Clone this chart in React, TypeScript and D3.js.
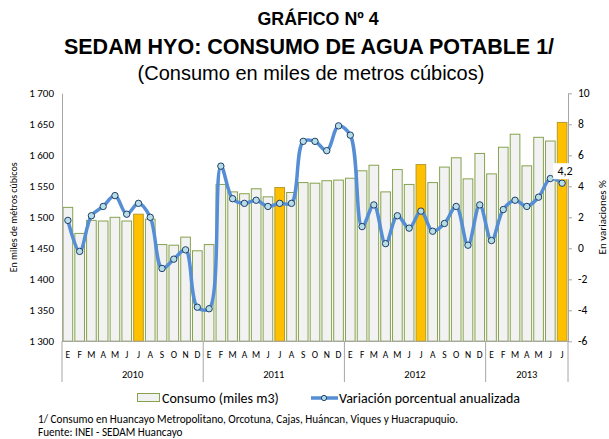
import React, { useEffect, useRef } from 'react';
import * as d3 from 'd3';

// meses (E..D) y años del eje
const months = ['E', 'F', 'M', 'A', 'M', 'J', 'J', 'A', 'S', 'O', 'N', 'D'];
const years = ['2010', '2011', '2012', '2013'];
const monthsPerYear = [12, 12, 12, 7];

// consumo en miles de m3
const consumo = [
  1516, 1474, 1495, 1494, 1500, 1494, 1505, 1497, 1456, 1455, 1468, 1446,
  1456, 1553, 1541, 1538, 1546, 1533, 1548, 1540, 1556, 1555, 1559, 1560,
  1563, 1575, 1584, 1541, 1577, 1553, 1585, 1556, 1581, 1596, 1562, 1603,
  1570, 1613, 1634, 1583, 1629, 1623, 1653,
];

// variación porcentual anualizada
const variacion = [
  1.8, -0.2, 2.1, 2.7, 3.4, 2.2, 2.9, 2.0, -1.3, -0.7, -0.1, -3.8,
  -3.9, 5.3, 3.2, 2.9, 3.1, 2.7, 2.9, 2.9, 6.9, 6.9, 6.3, 7.9,
  7.3, 1.4, 2.8, 0.3, 2.1, 1.3, 2.4, 1.1, 1.6, 2.7, 0.2, 2.8,
  0.5, 2.5, 3.1, 2.7, 3.3, 4.5, 4.2,
];

const leftTicks = [1300, 1350, 1400, 1450, 1500, 1550, 1600, 1650, 1700];
const rightTicks = [-6, -4, -2, 0, 2, 4, 6, 8, 10];

function drawChart(svg: d3.Selection<SVGSVGElement, unknown, null, undefined>) {
  const W = 609, H = 439;
  const left = 62, right = 568, top = 93.3, bottom = 341.3;
  const font = 'Carlito, Lato, "Open Sans", sans-serif';
  const titleFont = '"Liberation Sans", Arial, sans-serif';

  svg.attr('width', W).attr('height', H);
  svg.append('rect').attr('width', W).attr('height', H).attr('fill', '#fff');

  // titulos
  const t = svg.append('g').attr('text-anchor', 'middle').attr('fill', '#000').style('font-family', titleFont);
  t.append('text').attr('x', 318).attr('y', 25).style('font-size', '17.8px').style('font-weight', 'bold').text('GRÁFICO Nº 4');
  t.append('text').attr('x', 309).attr('y', 54).style('font-size', '21.5px').style('font-weight', 'bold').text('SEDAM HYO: CONSUMO DE AGUA POTABLE 1/');
  t.append('text').attr('x', 311).attr('y', 80).style('font-size', '20px').text('(Consumo en miles de metros cúbicos)');

  const idx = d3.range(consumo.length);
  const x = d3.scaleBand<number>().domain(idx).range([left, right]).paddingInner(0.18).paddingOuter(0.09);
  const step = (right - left) / consumo.length;
  const yL = d3.scaleLinear().domain([1300, 1700]).range([bottom, top]);
  const yR = d3.scaleLinear().domain([-6, 10]).range([bottom, top]);

  // barras
  svg.append('g')
    .selectAll('rect')
    .data(consumo)
    .join('rect')
    .attr('x', (d, i) => x(i)!)
    .attr('y', d => yL(d))
    .attr('width', x.bandwidth())
    .attr('height', d => bottom - yL(d))
    .attr('fill', (d, i) => (i % 12 === 6 ? '#ffc000' : '#f2f2f2'))
    .attr('stroke', (d, i) => (i % 12 === 6 ? '#b59a2a' : '#86a24e'))
    .attr('stroke-width', 1);

  // ejes
  const axL = svg.append('g').attr('transform', `translate(${left},0)`)
    .call(d3.axisLeft(yL).tickValues(leftTicks).tickSize(0).tickPadding(8)
      .tickFormat(d => d3.format(',')(d as number).replace(',', ' ')));
  axL.select('.domain').attr('stroke', '#a6a6a6');
  axL.selectAll('text').style('font-family', font).style('font-size', '11px').attr('fill', '#000');

  const axR = svg.append('g').attr('transform', `translate(${right},0)`)
    .call(d3.axisRight(yR).tickValues(rightTicks).tickSize(4).tickSizeOuter(0).tickPadding(6)
      .tickFormat(d => String(d)));
  axR.select('.domain').attr('stroke', '#a6a6a6');
  axR.selectAll('line').attr('stroke', '#a6a6a6');
  axR.selectAll('text').style('font-family', font).style('font-size', '11.5px').attr('fill', '#000');

  // eje x
  svg.append('line').attr('x1', left).attr('x2', right).attr('y1', bottom).attr('y2', bottom).attr('stroke', '#a6a6a6');
  svg.append('g')
    .selectAll('text')
    .data(idx)
    .join('text')
    .attr('x', i => x(i)! + x.bandwidth() / 2)
    .attr('y', 358)
    .attr('text-anchor', 'middle')
    .style('font-family', font)
    .style('font-size', '9.5px')
    .text(i => months[i % 12]);

  let start = 0;
  const bounds = [0];
  monthsPerYear.forEach(n => { start += n; bounds.push(start); });
  svg.append('g')
    .selectAll('line')
    .data(bounds)
    .join('line')
    .attr('x1', b => left + b * step).attr('x2', b => left + b * step)
    .attr('y1', bottom).attr('y2', 382)
    .attr('stroke', '#a6a6a6');
  svg.append('g')
    .selectAll('text')
    .data(years)
    .join('text')
    .attr('x', (d, k) => left + ((bounds[k] + bounds[k + 1]) / 2) * step)
    .attr('y', 378)
    .attr('text-anchor', 'middle')
    .style('font-family', font)
    .style('font-size', '10.5px')
    .text(d => d);

  // linea de variacion
  const line = d3.line<number>()
    .x((d, i) => x(i)! + x.bandwidth() / 2)
    .y(d => yR(d))
    .curve(d3.curveCatmullRom.alpha(0.5));
  svg.append('path')
    .datum(variacion)
    .attr('d', line)
    .attr('fill', 'none')
    .attr('stroke', '#558ed5')
    .attr('stroke-width', 3.5)
    .attr('stroke-linejoin', 'round');
  svg.append('g')
    .selectAll('circle')
    .data(variacion)
    .join('circle')
    .attr('cx', (d, i) => x(i)! + x.bandwidth() / 2)
    .attr('cy', d => yR(d))
    .attr('r', 3.2)
    .attr('fill', '#b7dde8')
    .attr('stroke', '#1f3f66')
    .attr('stroke-width', 1);

  // etiqueta del ultimo dato
  const last = variacion.length - 1;
  const lx = x(last)! + x.bandwidth() / 2 + 3;
  const ly = yR(variacion[last]) - 8;
  svg.append('rect').attr('x', lx - 12).attr('y', ly - 12).attr('width', 24).attr('height', 16).attr('fill', '#fff');
  svg.append('text').attr('x', lx).attr('y', ly).attr('text-anchor', 'middle')
    .style('font-family', font).style('font-size', '12px').text(d3.format('.1f')(variacion[last]).replace('.', ','));

  // titulos de ejes
  svg.append('text').attr('transform', `translate(17,${(top + bottom) / 2}) rotate(-90)`)
    .attr('text-anchor', 'middle').style('font-family', font).style('font-size', '10px')
    .text('En miles de métros cúbicos');
  svg.append('text').attr('transform', `translate(606,${(top + bottom) / 2}) rotate(-90)`)
    .attr('text-anchor', 'middle').style('font-family', font).style('font-size', '11px')
    .text('En variaciones %');

  // leyenda
  const lg = svg.append('g').style('font-family', font).style('font-size', '14px');
  lg.append('rect').attr('x', 137.5).attr('y', 393.5).attr('width', 22).attr('height', 8)
    .attr('fill', '#f2f2f2').attr('stroke', '#86a24e');
  lg.append('text').attr('x', 162).attr('y', 403).text('Consumo (miles m3)');
  lg.append('line').attr('x1', 311).attr('x2', 338).attr('y1', 398).attr('y2', 398)
    .attr('stroke', '#558ed5').attr('stroke-width', 3.5);
  lg.append('circle').attr('cx', 324).attr('cy', 398).attr('r', 2.6)
    .attr('fill', '#b7dde8').attr('stroke', '#1f3f66');
  lg.append('text').attr('x', 339).attr('y', 403).text('Variación porcentual anualizada');

  // notas
  const notes = svg.append('g').style('font-family', font).style('font-size', '11.2px');
  notes.append('text').attr('x', 38).attr('y', 423)
    .text('1/ Consumo en Huancayo Metropolitano, Orcotuna, Cajas, Huáncan, Viques y Huacrapuquio.');
  notes.append('text').attr('x', 38).attr('y', 436).text('Fuente: INEI - SEDAM Huancayo');
}

export default function App() {
  const ref = useRef<SVGSVGElement>(null);
  useEffect(() => {
    const svg = d3.select(ref.current!);
    svg.selectAll('*').remove();
    drawChart(svg as any);
  }, []);
  return (
    <div style={{ position: 'absolute', left: 0, top: 0 }}>
      <svg ref={ref} style={{ display: 'block' }} />
    </div>
  );
}
